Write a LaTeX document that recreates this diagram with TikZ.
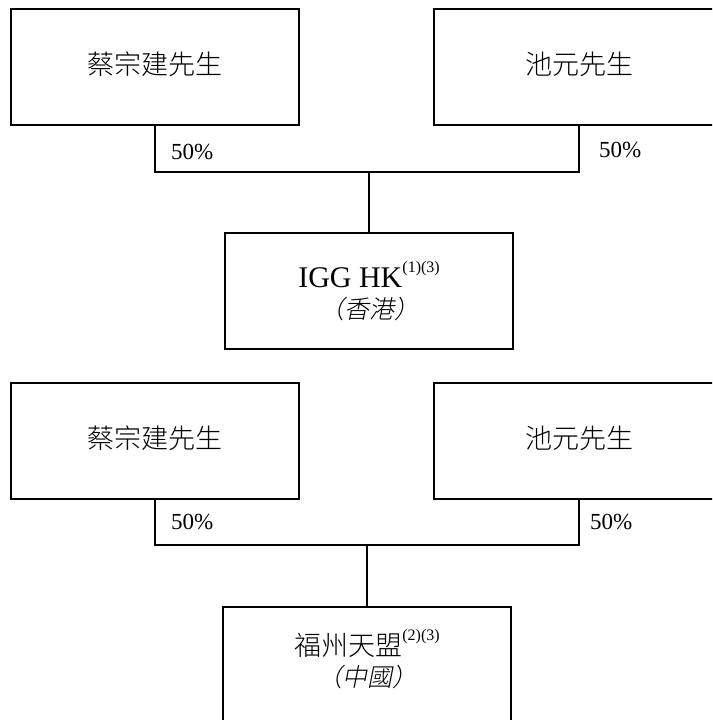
\documentclass[tikz,border=0pt]{standalone}
\usepackage{fontspec}
\setmainfont{Liberation Serif}
\newfontfamily\cjk{Noto Sans CJK TC}[UprightFont=* Light]
\newfontfamily\cjkit{Noto Sans CJK TC}[UprightFont=* Light,FakeSlant=0.2]
\newcommand{\supnote}[1]{\raisebox{0.5em}{\fontsize{16}{16}\selectfont #1}}
\begin{document}
\begin{tikzpicture}[x=1pt,y=-1pt,
  box/.style={draw,line width=1.2pt,inner sep=0pt,minimum height=116pt,align=center},
  conn/.style={line width=1.2pt},
  pct/.style={anchor=west,inner sep=0pt,font=\fontsize{23}{23}\selectfont},
  nametxt/.style={font=\cjk\fontsize{27}{27}\selectfont},
  twoline/.style={font=\fontsize{30}{31}\selectfont}]
\clip (0,0) rectangle (712,720);
\fill[white] (0,0) rectangle (712,720);
% top section
\node[box,nametxt,minimum width=288pt,text depth=8pt] (ta) at (155,67) {蔡宗建先生};
\node[box,nametxt,minimum width=290pt,text depth=8pt] (tb) at (579,67) {池元先生};
\node[box,twoline,minimum width=288pt] (tc) at (369,291)
  {IGG HK\supnote{(1)(3)}\\{\cjkit\fontsize{25}{31}\selectfont （香港）}};
\node[pct] (tpa) at (171,152) {50\%};
\node[pct] (tpb) at (599,150) {50\%};
\coordinate (tj) at (369,172);
\draw[conn] (ta.south) |- (tj) -| (tb.south);
\draw[conn] (tj) -- (tc.north);
% bottom section
\node[box,nametxt,minimum width=288pt,text depth=8pt] (ba) at (155,441) {蔡宗建先生};
\node[box,nametxt,minimum width=290pt,text depth=8pt] (bb) at (579,441) {池元先生};
\node[box,twoline,minimum width=288pt] (bc) at (367,665)
  {{\cjk\fontsize{27}{31}\selectfont 福州天盟}\supnote{(2)(3)}\\{\cjkit\fontsize{25}{31}\selectfont （中國）}\\[-27pt]\strut};
\node[pct] (bpa) at (171,522) {50\%};
\node[pct] (bpb) at (590,522) {50\%};
\coordinate (bj) at (367,545);
\draw[conn] (ba.south) |- (bj) -| (bb.south);
\draw[conn] (bj) -- (bc.north);
\end{tikzpicture}
\end{document}
